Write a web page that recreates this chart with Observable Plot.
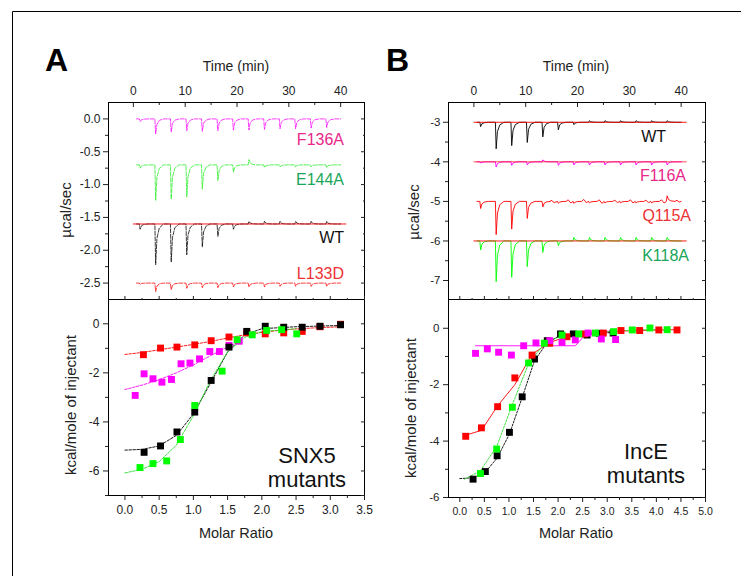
<!DOCTYPE html>
<html><head><meta charset="utf-8">
<script src="https://cdn.jsdelivr.net/npm/d3@7"></script>
<script src="https://cdn.jsdelivr.net/npm/@observablehq/plot@0.6"></script>
<style>
html,body{margin:0;padding:0;background:#fff;}
#stage{position:relative;width:741px;height:576px;overflow:hidden;background:#fff;font-family:"Liberation Sans",Arial,sans-serif;}
#stage svg{position:absolute;overflow:visible;}
</style></head><body><div id="stage"></div>
<script>
// ---------------- DATA ----------------
// injection times (min) of the ITC runs
const injTimes = [1.2, 4.2, 7.2, 10.2, 13.2, 16.2, 19.2, 22.2, 25.2, 28.2, 31.2, 34.2, 37.2];
const traceStart = 0.6, traceEnd = 40;
const baselineSpan = [0, 41];

// Panel A raw heats (µcal/sec): baseline offsets and peak value per injection
const baseF136A = 0.0,  peakF136A = [-0.04, -0.23, -0.2, -0.18, -0.19, -0.18, -0.17, -0.17, -0.16, -0.15, -0.15, -0.14, -0.13];
const baseE144A = -0.7, peakE144A = [-0.75, -1.24, -1.22, -1.19, -1.07, -0.94, -0.81, -0.62, -0.74, -0.73, -0.73, -0.73, -0.74];
const baseWTA = -1.6,   peakWTA = [-1.68, -2.22, -2.18, -2.07, -1.95, -1.79, -1.68, -1.56, -1.56, -1.56, -1.56, -1.56, -1.56];
const baseL133D = -2.5, peakL133D = [-2.52, -2.63, -2.6, -2.58, -2.57, -2.57, -2.56, -2.56, -2.56, -2.55, -2.55, -2.55, -2.55];

// Panel B raw heats (µcal/sec)
const baseWTB = -3,     peakWTB = [-3.11, -3.67, -3.59, -3.51, -3.37, -3.19, -3.06, -2.96, -2.96, -2.96, -2.96, -2.96, -2.96];
const baseF116A = -4,   peakF116A = [-4.03, -4.13, -4.09, -4.08, -3.95, -4.09, -4.08, -4.08, -4.08, -4.08, -4.08, -4.08, -4.08];
const baseQ115A = -5,   peakQ115A = [-5.18, -5.84, -5.7, -5.43, -5.14, -5.05, -5.05, -5.04, -5.04, -5.04, -5.04, -5.04, -4.86];
const noiseQ115A = [[14.9,-4.97],[15.5,-5.03],[18.2,-4.96],[18.7,-5.04],[21.2,-4.95],[21.7,-5.03],[24.2,-4.96],[24.7,-5.05],[27.2,-4.97],[27.7,-5.03],[30.2,-4.96],[30.7,-5.04],[33.2,-4.97],[33.7,-5.03],[36.2,-4.96],[36.7,-5.04],[39.2,-4.97],[39.6,-5.02]];
const baseK118A = -6,   peakK118A = [-6.23, -7.03, -6.92, -6.65, -6.29, -6.12, -5.91, -5.91, -5.91, -5.91, -5.91, -5.91, -5.91];

// Panel A integrated heats (kcal/mole of injectant) vs molar ratio
const redA_x = [0.27, 0.52, 0.76, 1.02, 1.26, 1.52, 1.78, 2.05, 2.32, 2.59, 2.85, 3.15];
const redA_y = [-1.26, -0.99, -0.95, -0.86, -0.69, -0.54, -0.37, -0.41, -0.37, -0.31, -0.12, -0.02];
const magA_x = [0.15, 0.28, 0.41, 0.54, 0.68, 0.82, 0.95, 1.09, 1.24, 1.38, 1.52, 1.67];
const magA_y = [-2.92, -2.04, -2.24, -2.38, -2.27, -1.63, -1.6, -1.43, -1.13, -1.13, -0.88, -0.71];
const blkA_x = [0.28, 0.52, 0.76, 1.02, 1.26, 1.52, 1.78, 2.05, 2.32, 2.59, 2.85, 3.15];
const blkA_y = [-5.24, -4.98, -4.41, -3.6, -2.31, -0.95, -0.31, -0.1, -0.14, -0.14, -0.1, -0.04];
const grnA_x = [0.22, 0.41, 0.61, 0.81, 1.02, 1.42, 1.64, 1.86, 2.07, 2.29, 2.51];
const grnA_y = [-5.86, -5.7, -5.59, -4.72, -3.33, -1.93, -0.65, -0.45, -0.27, -0.24, -0.41];
const fitRedA = [[0,-1.25],[0.25,-1.17],[0.5,-1.06],[0.75,-0.95],[1,-0.84],[1.25,-0.72],[1.5,-0.58],[1.75,-0.45],[2,-0.35],[2.25,-0.27],[2.5,-0.21],[2.75,-0.17],[3.15,-0.12]];
const fitMagA = [[0,-2.68],[0.25,-2.5],[0.5,-2.28],[0.75,-2.0],[1,-1.68],[1.25,-1.3],[1.5,-0.95],[1.67,-0.72]];
const fitBlkA = [[0,-5.15],[0.25,-5.12],[0.5,-4.98],[0.75,-4.55],[1,-3.68],[1.25,-2.42],[1.5,-1.15],[1.75,-0.45],[2,-0.2],[2.5,-0.12],[3.15,-0.07]];
const fitGrnA = [[0,-6.08],[0.25,-5.93],[0.5,-5.62],[0.75,-4.95],[1,-3.75],[1.25,-2.3],[1.5,-1.15],[1.75,-0.55],[2,-0.32],[2.5,-0.2]];

// Panel B integrated heats
const redB_x = [0.12, 0.44, 0.77, 1.12, 1.47, 1.83, 2.18, 2.54, 2.92, 3.28, 3.66, 4.05, 4.42];
const redB_y = [-3.83, -3.53, -2.78, -1.76, -0.95, -0.53, -0.3, -0.2, -0.17, -0.08, -0.08, -0.06, -0.06];
const magB_x = [0.32, 0.56, 0.79, 1.05, 1.3, 1.55, 1.83, 2.08, 2.35, 2.61, 2.88, 3.17];
const magB_y = [-0.89, -0.73, -0.85, -0.95, -0.62, -0.52, -0.44, -0.5, -0.41, -0.17, -0.38, -0.4];
const blkB_x = [0.27, 0.52, 0.76, 1.01, 1.27, 1.52, 1.78, 2.05, 2.31, 2.59, 2.84, 3.12];
const blkB_y = [-5.35, -5.08, -4.52, -3.69, -2.43, -1.09, -0.44, -0.2, -0.2, -0.24, -0.18, -0.17];
const grnB_x = [0.42, 0.75, 1.07, 1.4, 1.72, 2.08, 2.42, 2.76, 3.13, 3.51, 3.87, 4.22];
const grnB_y = [-5.15, -4.28, -2.8, -1.23, -0.53, -0.24, -0.2, -0.17, -0.12, -0.06, 0.01, -0.05];
const fitRedB = [[0.1,-3.8],[0.44,-3.62],[0.77,-2.75],[1.12,-2.0],[1.47,-0.92],[1.83,-0.5],[2.18,-0.3],[2.54,-0.2],[2.92,-0.14],[3.28,-0.1],[3.66,-0.08],[4.05,-0.06],[4.42,-0.05]];
const fitMagB = [[0.32,-0.62],[2.35,-0.62],[2.61,-0.12],[3.17,-0.1]];
const fitBlkB = [[0,-5.33],[0.27,-5.3],[0.52,-5.1],[0.76,-4.6],[1.01,-3.75],[1.27,-2.45],[1.52,-1.15],[1.78,-0.5],[2.05,-0.25],[2.31,-0.2],[2.59,-0.22],[2.84,-0.18],[3.12,-0.15]];
const fitGrnB = [[0.1,-5.35],[0.42,-5.05],[0.75,-4.2],[1.07,-2.7],[1.4,-1.25],[1.72,-0.55],[2.08,-0.25],[2.42,-0.2],[2.76,-0.15],[3.13,-0.1],[3.51,-0.07],[3.87,-0.05],[4.22,-0.05]];

// tick values
const timeTicks = [0, 10, 20, 30, 40];
const timeMinor = [5, 15, 25, 35];
const yTopA = [0, -0.5, -1.0, -1.5, -2.0, -2.5];
const yTopAminor = [-0.25, -0.75, -1.25, -1.75, -2.25];
const yTopB = [-3, -4, -5, -6, -7];
const yTopBminor = [-3.5, -4.5, -5.5, -6.5];
const yBot = [0, -2, -4, -6];
const yBotAminor = [-1, -3, -5, -7];
const yBotBminor = [-1, -3, -5];
const xBotA = [0, 0.5, 1, 1.5, 2, 2.5, 3, 3.5];
const xBotAminor = [0.25, 0.75, 1.25, 1.75, 2.25, 2.75, 3.25];
const xBotB = [0, 0.5, 1, 1.5, 2, 2.5, 3, 3.5, 4, 4.5, 5];
const xBotBminor = [0.25, 0.75, 1.25, 1.75, 2.25, 2.75, 3.25, 3.75, 4.25, 4.75];

// ---------------- HELPERS ----------------
function trace(base, peaks, extra = []) {
  const pts = [{t: traceStart, v: base}];
  injTimes.forEach((t, i) => {
    const d = peaks[i] - base;
    pts.push({t: t - 0.05, v: base}, {t: t + 0.1, v: peaks[i]}, {t: t + 0.35, v: base + d * 0.35},
             {t: t + 0.8, v: base + d * 0.1}, {t: t + 1.6, v: base});
  });
  extra.forEach(([t, v]) => pts.push({t, v}));
  pts.push({t: traceEnd, v: base});
  return pts.sort((a, b) => a.t - b.t);
}
const baseline = v => baselineSpan.map(t => ({t, v}));
const fmt1 = d => d.toFixed(1);
const fmt0 = d => String(d);
const blank = () => "";
const FONT = "'Liberation Sans', Arial, Helvetica, sans-serif";
const style = {fontFamily: FONT, fontSize: "12px", color: "#222", background: "transparent", overflow: "visible"};
const stage = document.getElementById("stage");
function place(svg, left, top) { svg.style.left = left + "px"; svg.style.top = top + "px"; stage.appendChild(svg); }

function topAxes(yMaj, yMin, fs, yFmt) {
  return [
    Plot.frame({stroke: "#000", strokeWidth: 1}),
    Plot.axisY({ticks: yMaj, anchor: "left", tickSize: 5, tickPadding: 3, tickFormat: yFmt, label: null, fontSize: fs}),
    Plot.axisY({ticks: yMin, anchor: "left", tickSize: 3, tickFormat: blank, label: null}),
    Plot.axisY({ticks: yMaj, anchor: "right", tickSize: -4, tickFormat: blank, label: null}),
    Plot.axisY({ticks: yMin, anchor: "right", tickSize: -2, tickFormat: blank, label: null}),
    Plot.axisX({ticks: timeTicks, anchor: "top", tickSize: 0, tickPadding: 8, tickFormat: fmt0, label: null, fontSize: 12}),
    Plot.axisX({ticks: timeTicks, anchor: "top", tickSize: -4, tickFormat: blank, label: null}),
    Plot.axisX({ticks: timeMinor, anchor: "top", tickSize: -2, tickFormat: blank, label: null})
  ];
}
function botAxes(xMaj, xMin, yMin, fx, fy) {
  return [
    Plot.frame({stroke: "#000", strokeWidth: 1}),
    Plot.axisY({ticks: yBot, anchor: "left", tickSize: 5, tickPadding: 4, tickFormat: fmt0, label: null, fontSize: fy}),
    Plot.axisY({ticks: yMin, anchor: "left", tickSize: 3, tickFormat: blank, label: null}),
    Plot.axisY({ticks: yBot.concat(yMin), anchor: "right", tickSize: -4, tickFormat: blank, label: null}),
    Plot.axisX({ticks: xMaj, anchor: "bottom", tickSize: 5, tickPadding: 5, tickFormat: fmt1, label: null, fontSize: fx}),
    Plot.axisX({ticks: xMin, anchor: "bottom", tickSize: 3, tickFormat: blank, label: null}),
    Plot.axisX({ticks: xMaj, anchor: "top", tickSize: 4, tickFormat: blank, label: null}),
    Plot.axisX({ticks: xMin, anchor: "top", tickSize: 2, tickFormat: blank, label: null})
  ];
}
const sq = (xs, ys, fill) => Plot.dot(d3.zip(xs, ys), {x: d => d[0], y: d => d[1], symbol: "square", r: 3.9, fill});
const fit = (pts, stroke, dash) => Plot.line(pts, {x: d => d[0], y: d => d[1], stroke, strokeWidth: 0.9, strokeDasharray: dash});
const raw = (pts, stroke, dash, op = 0.85) => Plot.line(pts, {x: "t", y: "v", stroke, strokeWidth: 0.9, strokeOpacity: op, strokeDasharray: dash});

const RED = "#ff0000", MAG = "#ff00ff", GRN = "#00ff00", BLK = "#000000";

// ---------------- PANEL A ----------------
place(Plot.plot({
  width: 334, height: 239, marginLeft: 68, marginTop: 32, marginRight: 10, marginBottom: 10,
  x: {domain: [-4.8, 44.6], axis: null}, y: {domain: [-2.75, 0.25], axis: null}, style,
  marks: [
    ...topAxes(yTopA, yTopAminor, 12, fmt1),
    raw(trace(baseF136A, peakF136A), MAG, "4,1.5"),
    raw(trace(baseE144A, peakE144A), "#22ee22", "4,1.5"),
    raw(trace(baseWTA, peakWTA), BLK, "4,1.5"),
    raw(baseline(baseWTA), RED, null, 1),
    raw(trace(baseL133D, peakL133D), RED, "4,1.5")
  ]
}), 40, 70);

place(Plot.plot({
  width: 334, height: 235, marginLeft: 68, marginTop: 9, marginRight: 10, marginBottom: 30,
  x: {domain: [-0.24, 3.5], axis: null}, y: {domain: [-7, 0.99], axis: null}, style,
  marks: [
    ...botAxes(xBotA, xBotAminor, yBotAminor, 12, 12),
    fit(fitRedA, RED, "2.5,1.5"), fit(fitMagA, MAG, "2.5,1.5"), fit(fitBlkA, BLK, "2.5,1.5"), fit(fitGrnA, "#22dd22", "2.5,1.5"),
    sq(redA_x, redA_y, RED), sq(magA_x, magA_y, MAG), sq(blkA_x, blkA_y, BLK), sq(grnA_x, grnA_y, GRN)
  ]
}), 40, 290);

// ---------------- PANEL B ----------------
place(Plot.plot({
  width: 335, height: 239, marginLeft: 68, marginTop: 32, marginRight: 10, marginBottom: 10,
  x: {domain: [-4.9, 44.7], axis: null}, y: {domain: [-7.48, -2.5], axis: null}, style,
  marks: [
    ...topAxes(yTopB, yTopBminor, 11.5, fmt0),
    raw(trace(baseWTB, peakWTB), BLK, null, 1),
    raw(baseline(baseWTB), RED, null, 1),
    raw(trace(baseF116A, peakF116A), MAG, null, 1),
    raw(baseline(baseF116A), RED, null, 0.8),
    raw(trace(baseQ115A, peakQ115A, noiseQ115A), RED, null, 1),
    raw(trace(baseK118A, peakK118A), GRN, null, 1),
    raw(baseline(baseK118A), RED, null, 1)
  ]
}), 380, 70);

place(Plot.plot({
  width: 335, height: 237, marginLeft: 68, marginTop: 9, marginRight: 10, marginBottom: 30,
  x: {domain: [-0.23, 5.0], axis: null}, y: {domain: [-6, 1.02], axis: null}, style,
  marks: [
    ...botAxes(xBotB, xBotBminor, yBotBminor, 10.5, 11.5),
    fit(fitRedB, RED, null), fit(fitMagB, MAG, null), fit(fitBlkB, BLK, "2,1.5"), fit(fitGrnB, "#22dd22", "2,1.5"),
    sq(blkB_x, blkB_y, BLK), sq(redB_x, redB_y, RED), sq(magB_x, magB_y, MAG), sq(grnB_x, grnB_y, GRN)
  ]
}), 380, 290);

// ---------------- TEXT OVERLAY ----------------
const ov = d3.create("svg").attr("width", 741).attr("height", 576)
  .style("left", "0px").style("top", "0px").style("font-family", FONT);
ov.append("path").attr("d", "M12.5,577V11.5H742").attr("fill", "none").attr("stroke", "#000").attr("stroke-width", 1);
const T = (x, y, s, o = {}) => ov.append("text").attr("x", x).attr("y", y).text(s)
  .attr("font-size", o.fs || 14).attr("fill", o.fill || "#222").attr("text-anchor", o.anchor || "middle")
  .attr("font-weight", o.weight || "normal").attr("transform", o.rot ? `rotate(-90 ${x} ${y})` : null);
T(45, 71, "A", {fs: 32, weight: "bold", anchor: "start", fill: "#000"});
T(386, 71, "B", {fs: 32, weight: "bold", anchor: "start", fill: "#000"});
T(236, 71, "Time (min)", {fs: 14});
T(576, 71, "Time (min)", {fs: 14});
T(236, 538, "Molar Ratio", {fs: 14.5});
T(576, 538, "Molar Ratio", {fs: 14.5});
T(71, 210, "µcal/sec", {fs: 15, rot: true});
T(419, 212, "µcal/sec", {fs: 15, rot: true});
T(75.5, 405, "kcal/mole of injectant", {fs: 15, rot: true});
T(415.5, 408, "kcal/mole of injectant", {fs: 15, rot: true});
// trace labels
T(344, 145, "F136A", {fs: 16, anchor: "end", fill: "#e8288a"});
T(344, 185, "E144A", {fs: 16, anchor: "end", fill: "#1aa55a"});
T(344, 243, "WT", {fs: 16, anchor: "end", fill: "#111"});
T(344, 279, "L133D", {fs: 16, anchor: "end", fill: "#ee3135"});
T(666, 142, "WT", {fs: 16, anchor: "end", fill: "#111"});
T(686, 181, "F116A", {fs: 16, anchor: "end", fill: "#e8288a"});
T(691, 221, "Q115A", {fs: 16, anchor: "end", fill: "#ee3135"});
T(689, 261, "K118A", {fs: 16, anchor: "end", fill: "#1aa55a"});
// panel annotations
T(307, 463, "SNX5", {fs: 22, fill: "#111"});
T(307, 487, "mutants", {fs: 22, fill: "#111"});
T(646, 459, "IncE", {fs: 22, fill: "#111"});
T(646, 483, "mutants", {fs: 22, fill: "#111"});
stage.appendChild(ov.node());
</script></body></html>
